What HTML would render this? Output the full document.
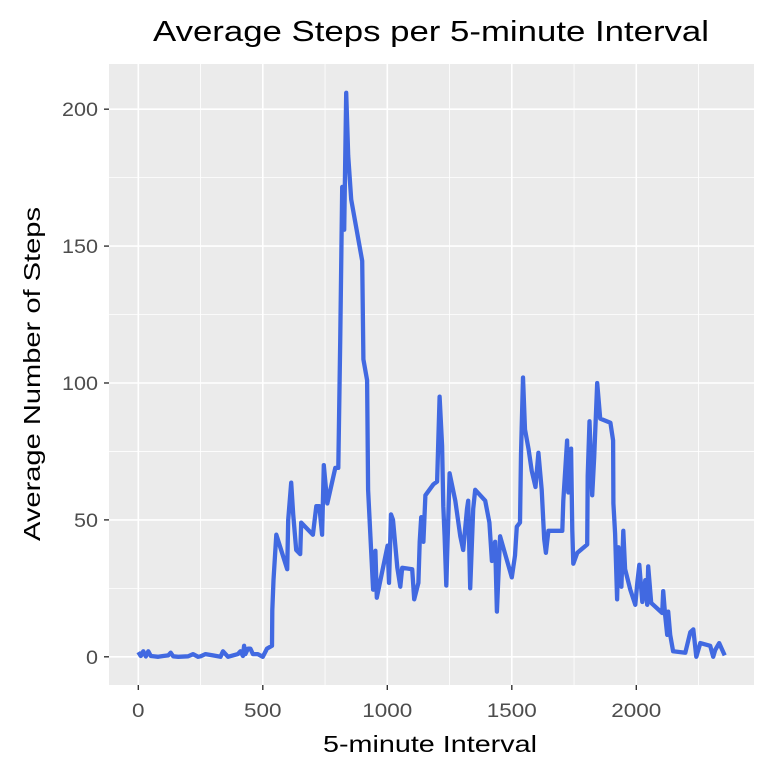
<!DOCTYPE html>
<html><head><meta charset="utf-8"><style>
html,body{margin:0;padding:0;background:#fff;}
svg{display:block;font-family:"Liberation Sans",Arial,sans-serif;}
</style></head><body>
<svg id="chart" width="768" height="768" viewBox="0 0 768 768">
<text x="431" y="41" text-anchor="middle" font-size="29" textLength="556" lengthAdjust="spacingAndGlyphs" fill="#000">Average Steps per 5-minute Interval</text>
<rect x="109" y="64" width="645" height="621" fill="#ebebeb"/>
<g id="grid"></g>
<g id="series"></g>
<g id="axes"></g>
<text x="430" y="752" text-anchor="middle" font-size="23" textLength="214" lengthAdjust="spacingAndGlyphs" fill="#000">5-minute Interval</text>
<text transform="translate(40,374) rotate(-90)" text-anchor="middle" font-size="23" textLength="334" lengthAdjust="spacingAndGlyphs" fill="#000">Average Number of Steps</text>
</svg>
<script>
const intervals = [0,10,20,30,40,50,60,80,100,120,130,140,160,200,220,240,250,270,300,330,340,360,380,400,410,420,425,430,440,450,460,480,500,517,537,538,543,554,598,602,614,622,634,650,654,701,715,727,738,745,759,791,803,811,815,819,827,835,843,855,899,904,919,923,935,943,952,958,1001,1007,1015,1023,1040,1052,1060,1100,1108,1125,1130,1136,1145,1153,1185,1200,1210,1220,1225,1230,1237,1250,1273,1293,1305,1320,1325,1333,1345,1353,1393,1410,1420,1433,1440,1453,1500,1513,1520,1533,1537,1545,1553,1567,1580,1595,1607,1620,1630,1637,1647,1703,1707,1722,1727,1738,1743,1747,1763,1803,1805,1812,1823,1831,1843,1855,1896,1907,1908,1915,1923,1928,1940,1948,1955,1976,1996,2004,2012,2024,2036,2044,2048,2060,2104,2108,2116,2124,2128,2136,2148,2197,2217,2229,2241,2257,2297,2309,2317,2333,2355];
const steps = [1.7,0.3,2,0.1,2,0.3,0.2,0,0.3,0.5,1.5,0.2,0,0.2,1,0,0.2,1,0.5,0,2,0,0.5,1,2,0.3,4,1,3,3,1,1,0,3,4,17,28,44.6,32,50,63.6,52,39,37.5,49,44.6,55,55,44.6,70,56,69,69,115,143,171.6,156,206,183,167,144.6,108.6,101,61,39,24.5,38.7,21.6,40.6,27,52,50,32.6,25.6,32.5,32,21,27,42,51,42,59,63,64,95,77,55,44,26,67,57,44,39,54,57,25,54,61,57,49,35,42,16.5,44,29,37,47.5,49,74,102,83,76,68,62,74.5,61,43,38,46,46,57,79,60,76,46,34,38,41,66,86,59,73,100,87,85.5,79,56,45,21,40,25.6,46,32,24.5,19,27,33.6,20,28,19,33,19.7,16,24,15,8,16.5,8,2,1.5,9,10,0,5,4,0,2.5,5,0.5];
const xTicks = [0,500,1000,1500,2000];
const yTicks = [0,50,100,150,200];
const xMinor = [250,750,1250,1750,2250];
const yMinor = [25,75,125,175];

const L=109,R=754,T=64,B=685;
const xmin=-117.75,xmax=2472.75,ymin=-10.3,ymax=216.5;
const sx=v=>L+(v-xmin)/(xmax-xmin)*(R-L);
const sy=v=>B-(v-ymin)/(ymax-ymin)*(B-T);
const NS="http://www.w3.org/2000/svg";
const grid=document.getElementById('grid'),axes=document.getElementById('axes'),series=document.getElementById('series');
function line(p,x1,y1,x2,y2,c,w){const l=document.createElementNS(NS,'line');l.setAttribute('x1',x1);l.setAttribute('y1',y1);l.setAttribute('x2',x2);l.setAttribute('y2',y2);l.setAttribute('stroke',c);l.setAttribute('stroke-width',w);p.appendChild(l);return l;}
xMinor.forEach(v=>{const l=line(grid,sx(v),T,sx(v),B,'#fff',0.8);

});
yMinor.forEach(v=>{const l=line(grid,L,sy(v),R,sy(v),'#fff',0.8);

});
xTicks.forEach(v=>{const l=line(grid,sx(v),T,sx(v),B,'#fff',1.6);


const t=line(axes,sx(v),B,sx(v),B+5,'#333',1.4);


const tx=document.createElementNS(NS,'text');tx.setAttribute('x',sx(v));tx.setAttribute('y',B+32);tx.setAttribute('text-anchor','middle');tx.setAttribute('font-size','19');tx.setAttribute('textLength',String(v).length*12.5);tx.setAttribute('lengthAdjust','spacingAndGlyphs');tx.setAttribute('fill','#4d4d4d');tx.textContent=v;


axes.appendChild(tx);});
yTicks.forEach(v=>{const l=line(grid,L,sy(v),R,sy(v),'#fff',1.6);


const t=line(axes,L-5,sy(v),L,sy(v),'#333',1.4);


const tx=document.createElementNS(NS,'text');tx.setAttribute('x',L-11);tx.setAttribute('y',sy(v)+7);tx.setAttribute('text-anchor','end');tx.setAttribute('font-size','19');tx.setAttribute('textLength',String(v).length*12);tx.setAttribute('lengthAdjust','spacingAndGlyphs');tx.setAttribute('fill','#4d4d4d');tx.textContent=v;


axes.appendChild(tx);});
const p=document.createElementNS(NS,'polyline');
p.setAttribute('points',intervals.map((x,i)=>sx(x).toFixed(1)+','+sy(steps[i]).toFixed(1)).join(' '));
p.setAttribute('fill','none');p.setAttribute('stroke','#4169E1');p.setAttribute('stroke-width','4.3');p.setAttribute('stroke-linejoin','round');


series.appendChild(p);
</script>
</body></html>
